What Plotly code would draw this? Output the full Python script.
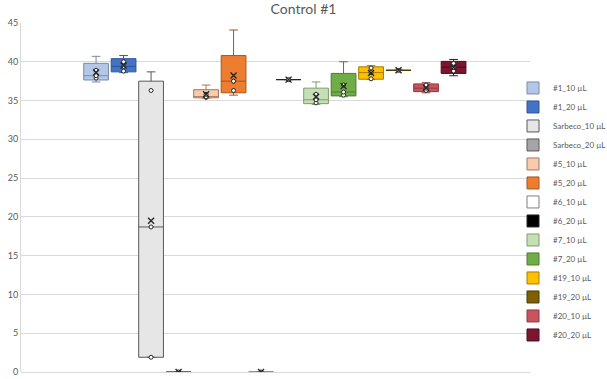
import numpy as np
import plotly.graph_objects as go

# Series names (legend order)
series_names = ["#1_10 µL", "#1_20 µL", "Sarbeco_10 µL", "Sarbeco_20 µL",
                "#5_10 µL", "#5_20 µL", "#6_10 µL", "#6_20 µL",
                "#7_10 µL", "#7_20 µL", "#19_10 µL", "#19_20 µL",
                "#20_10 µL", "#20_20 µL"]

# Ct values
s1_10 = [37.4, 37.9, 38.2, 38.9, 40.7]
s1_20 = [38.6, 38.8, 39.4, 40.0, 40.8]
sarbeco_10 = [1.9, 1.9, 18.7, 36.3, 38.7]
sarbeco_20 = [0.0, 0.0, 0.0]
s5_10 = [35.3, 35.4, 35.5, 35.8, 37.0]
s5_20 = [35.7, 36.3, 37.5, 37.5, 44.1]
s6_10 = [0.0, 0.0, 0.0]
s6_20 = [37.7, 37.7, 37.7]
s7_10 = [34.5, 34.7, 35.1, 35.8, 37.4]
s7_20 = [35.5, 35.7, 36.1, 37.0, 40.0]
s19_10 = [37.7, 37.8, 38.6, 39.2, 39.5]
s19_20 = [38.9, 38.9, 38.9]
s20_10 = [36.0, 36.3, 36.6, 37.0, 37.3]
s20_20 = [38.2, 38.8, 39.3, 39.8, 40.3]

series_values = [s1_10, s1_20, sarbeco_10, sarbeco_20, s5_10, s5_20, s6_10,
                 s6_20, s7_10, s7_20, s19_10, s19_20, s20_10, s20_20]

fill_colors = ["#B4C7E7", "#4472C4", "#E7E6E6", "#A5A5A5", "#F8CBAD", "#ED7D31",
               "#FFFFFF", "#000000", "#C5E0B4", "#70AD47", "#FFC000", "#7F6000",
               "#C9545E", "#7B1530"]
line_colors = ["#7A8BA8", "#2F5597", "#595959", "#595959", "#A0785E", "#A3561F",
               "#7F7F7F", "#262626", "#7F9A6E", "#4E7A31", "#A67C00", "#4D3A00",
               "#8C3A41", "#4A0D1D"]

y_ticks = [0, 5, 10, 15, 20, 25, 30, 35, 40, 45]

fig = go.Figure()
for name, vals, fc, lc in zip(series_names, series_values, fill_colors, line_colors):
    fig.add_trace(go.Box(
        x=[name] * len(vals), y=vals, name=name,
        fillcolor=fc, line=dict(color=lc, width=1),
        boxpoints=False, width=0.9,
        quartilemethod="exclusive", whiskerwidth=0.35,
        hoverinfo="y",
    ))
    inner = sorted(vals)[1:-1]
    fig.add_trace(go.Scatter(
        x=[name] * len(inner), y=inner, mode="markers", showlegend=False,
        marker=dict(symbol="circle", size=4, color="white",
                    line=dict(color="#262626", width=1)),
        hoverinfo="y",
    ))
    fig.add_trace(go.Scatter(
        x=[name], y=[float(np.mean(vals))], mode="markers", showlegend=False,
        marker=dict(symbol="x-thin", size=6, line=dict(color="#262626", width=1.4)),
        hoverinfo="y",
    ))

fig.update_layout(
    width=607, height=379,
    margin=dict(l=21, r=0, t=23, b=7, autoexpand=False),
    paper_bgcolor="white", plot_bgcolor="white",
    font=dict(family="Lato, sans-serif", color="#595959", size=9),
    title=dict(text="Control #1", x=0.5, xanchor="center", y=0.976, yanchor="middle",
               font=dict(family="Lato, sans-serif", size=14, color="#595959")),
    showlegend=True,
    legend=dict(x=(513 - 21) / 586, xanchor="left", y=0.46, yanchor="middle",
                font=dict(family="Lato, sans-serif", size=8, color="#595959"),
                bgcolor="rgba(0,0,0,0)", itemclick=False),
    xaxis=dict(domain=[0, 509 / 586], categoryorder="array", categoryarray=series_names,
               range=[-2.73, 15.78], showticklabels=False, showgrid=False,
               zeroline=False, showline=False, fixedrange=True),
    yaxis=dict(range=[0, 45], tickvals=y_ticks, showgrid=True, gridcolor="#D9D9D9",
               gridwidth=1, zeroline=True, zerolinecolor="#D9D9D9", zerolinewidth=1,
               showline=True, linecolor="#D9D9D9", linewidth=1,
               tickfont=dict(family="Lato, sans-serif", size=9, color="#595959"),
               ticks=""),
)

fig.write_html("out.html", post_script="document.body.style.margin='0';",
               config={"displayModeBar": False})
